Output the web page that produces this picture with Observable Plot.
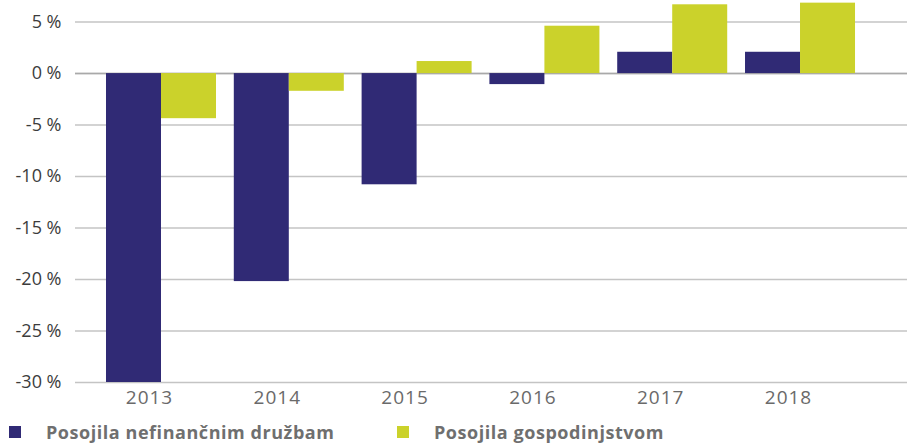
<!DOCTYPE html>
<html>
<head>
<meta charset="utf-8">
<script src="https://cdn.jsdelivr.net/npm/d3@7"></script>
<script src="https://cdn.jsdelivr.net/npm/@observablehq/plot@0.6"></script>
<style>
  html, body { margin: 0; padding: 0; background: #fff; }
  #chart { width: 914px; }
  .legend { display: flex; align-items: center; height: 23px; margin: 0; font-family: "Open Sans", sans-serif; font-weight: 700; font-size: 18px; letter-spacing: 0.55px; color: #6f6f6f; }
  .legend .item { display: flex; align-items: center; }
  .legend .item:first-child { margin-left: 9px; width: 388px; }
  .legend .sw { width: 12px; height: 12px; margin-right: 25px; flex: none; }
  .xax text { letter-spacing: 1px; }
</style>
</head>
<body>
<div id="chart"></div>
<script>
const years = ["2013", "2014", "2015", "2016", "2017", "2018"];
const nonFinancial = [-30, -20.2, -10.8, -1.07, 2.07, 2.07];
const households = [-4.38, -1.72, 1.17, 4.6, 6.68, 6.84];
const seriesNames = ["Posojila nefinančnim družbam", "Posojila gospodinjstvom"];
const seriesColors = ["#302a75", "#cbd22b"];
const yTicks = [5, 0, -5, -10, -15, -20, -25, -30];

const W = 914, H = 420, mL = 75, mR = 7;
const padOuter = 0.255;
const step = (W - mL - mR) / (years.length + 2 * padOuter);
const barW = 55;
const half = step / 2;

const data = [];
years.forEach((y, i) => {
  data.push({year: y, series: seriesNames[0], value: nonFinancial[i]});
  data.push({year: y, series: seriesNames[1], value: households[i]});
});

const chart = Plot.plot({
  width: W, height: H,
  marginLeft: mL, marginRight: mR, marginTop: 1, marginBottom: 38,
  style: {fontFamily: "'Open Sans', sans-serif", fontSize: "18px", background: "#fff", overflow: "visible"},
  x: {domain: years, paddingInner: 0, paddingOuter: padOuter, align: 0.339, round: false, label: null},
  y: {domain: [-30, 7], label: null},
  color: {domain: seriesNames, range: seriesColors},
  marks: [
    Plot.ruleY(yTicks, {stroke: "#c4c4c4", strokeWidth: 1.5}),
    Plot.ruleY([0], {stroke: "#a9a9a9", strokeWidth: 1.5}),
    Plot.barY(data.filter(d => d.series === seriesNames[0]), {x: "year", y: "value", fill: "series", insetLeft: half - barW, insetRight: half}),
    Plot.barY(data.filter(d => d.series === seriesNames[1]), {x: "year", y: "value", fill: "series", insetLeft: half, insetRight: half - barW}),
    Plot.axisY(yTicks, {tickSize: 0, tickPadding: 14, tickFormat: d => `${d} %`, fill: "#3c3c3c", label: null, fontSize: 18}),
    Plot.axisX({tickSize: 0, tickPadding: 8, dx: -12, fill: "#6a6a6a", label: null, fontSize: 19, className: "xax"})
  ]
});
document.getElementById("chart").appendChild(chart);

const legend = document.createElement("div");
legend.className = "legend";
seriesNames.forEach((name, i) => {
  const item = document.createElement("div");
  item.className = "item";
  const sw = document.createElement("span");
  sw.className = "sw";
  sw.style.background = seriesColors[i];
  const tx = document.createElement("span");
  tx.textContent = name;
  item.appendChild(sw);
  item.appendChild(tx);
  legend.appendChild(item);
});
document.getElementById("chart").appendChild(legend);
</script>
</body>
</html>
